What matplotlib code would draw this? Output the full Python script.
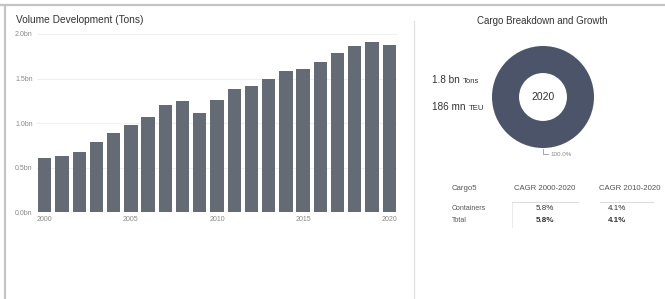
import matplotlib
matplotlib.use("Agg")
import matplotlib.pyplot as plt
from matplotlib.lines import Line2D
from matplotlib.text import Annotation

plt.rcParams['font.family'] = ['Liberation Sans', 'DejaVu Sans']

W, H = 665, 299

years = list(range(2000, 2021))
volume_bn = [0.61, 0.63, 0.68, 0.79, 0.89, 0.98, 1.07, 1.20, 1.245, 1.11, 1.26,
             1.38, 1.42, 1.50, 1.58, 1.61, 1.69, 1.79, 1.86, 1.91, 1.88]
y_ticks = [0.0, 0.5, 1.0, 1.5, 2.0]
x_ticks = [2000, 2005, 2010, 2015, 2020]

cargo_share = [100.0]
kpis = [("1.8 bn", "Tons"), ("186 mn", "TEU")]
table_header = ["Cargo5", "CAGR 2000-2020", "CAGR 2010-2020"]
table_rows = [["Containers", "5.8%", "4.1%"],
              ["Total", "5.8%", "4.1%"]]

BAR = "#656b75"
DONUT = "#4b5469"
TXT = "#333333"
GREY = "#888888"


def fx(x):
    return x / W


def fy(y):
    return 1 - y / H


fig = plt.figure(figsize=(W / 100, H / 100), dpi=100)

# frame lines of the dashboard
fig.add_artist(Line2D([0, 1], [fy(4.5), fy(4.5)], color="#c4c4c4", lw=1.6))
fig.add_artist(Line2D([fx(4.5), fx(4.5)], [0, fy(4.5)], color="#c4c4c4", lw=1.6))
fig.add_artist(Line2D([fx(414), fx(414)], [0, fy(21)], color="#e4e4e4", lw=1.0))

# left: bar chart
ax = fig.add_axes([fx(37), fy(212.3), fx(397) - fx(37), fy(34) - fy(212.3)])
ax.bar(years, volume_bn, width=0.77, color=BAR, zorder=2)
ax.set_xlim(1999.55, 2020.45)
ax.set_ylim(0, 2.0)
ax.set_yticks(y_ticks)
ax.set_yticklabels([f"{v:.1f}bn" for v in y_ticks])
ax.set_xticks(x_ticks)
ax.set_xticklabels([str(v) for v in x_ticks])
ax.tick_params(length=0, labelsize=5, colors=GREY, pad=3)
ax.grid(axis="y", color="#f0f0f0", lw=0.8, zorder=0)
for s in ax.spines.values():
    s.set_visible(False)
fig.text(fx(16), fy(20), "Volume Development (Tons)", fontsize=7.3,
         color=TXT, va="center", ha="left")

# right: donut
fig.text(fx(542), fy(21), "Cargo Breakdown and Growth", fontsize=7,
         color=TXT, va="center", ha="center")
r = 51
dax = fig.add_axes([fx(543 - r), fy(97 + r), 2 * r / W, 2 * r / H])
dax.pie(cargo_share, colors=[DONUT], startangle=90, radius=1.0,
        wedgeprops=dict(width=0.53, edgecolor="none"))
dax.set_xlim(-1, 1)
dax.set_ylim(-1, 1)
dax.axis("off")
fig.text(fx(543), fy(97), "2020", fontsize=7.5, color=TXT, ha="center", va="center")
fig.add_artist(Line2D([fx(542.7), fx(542.7), fx(548)], [fy(149), fy(154), fy(154)],
                      color="#999999", lw=0.6))
fig.text(fx(550), fy(154), f"{cargo_share[0]:.1f}%", fontsize=4.5, color=GREY,
         ha="left", va="center")

# key figures left of the donut, unit in smaller type
for yy, (big, small) in zip([80, 107], kpis):
    t = fig.text(fx(432), fy(yy), big, fontsize=7.2, color=TXT, ha="left",
                 va="center")
    fig.add_artist(Annotation(small, xy=(1, 0), xycoords=t, xytext=(2.5, 0),
                              textcoords="offset points", fontsize=5.6, color=TXT,
                              ha="left", va="bottom"))

# table
col_x = [452, 545, 617]
fig.text(fx(col_x[0]), fy(189), table_header[0], fontsize=5.6, color="#555555",
         ha="left", va="center")
fig.text(fx(col_x[1]), fy(189), table_header[1], fontsize=5.6, color="#555555",
         ha="center", va="center")
fig.text(fx(630), fy(189), table_header[2], fontsize=5.6, color="#555555",
         ha="center", va="center")
fig.add_artist(Line2D([fx(512), fx(578)], [fy(202), fy(202)], color="#dddddd", lw=0.8))
fig.add_artist(Line2D([fx(600), fx(653)], [fy(202), fy(202)], color="#dddddd", lw=0.8))
fig.add_artist(Line2D([fx(512), fx(512)], [fy(203), fy(227)], color="#e6e6e6", lw=0.6))
row_y = [208, 220]
for ry, row in zip(row_y, table_rows):
    bold = row[0] == "Total"
    fig.text(fx(col_x[0]), fy(ry), row[0], fontsize=5, color="#555555",
             ha="left", va="center")
    fig.text(fx(col_x[1]), fy(ry), row[1], fontsize=5.8, color=TXT, ha="center",
             va="center", fontweight="bold" if bold else "normal")
    fig.text(fx(col_x[2]), fy(ry), row[2], fontsize=5.8, color=TXT, ha="center",
             va="center", fontweight="bold" if bold else "normal")

fig.savefig("out.png", dpi=100)
